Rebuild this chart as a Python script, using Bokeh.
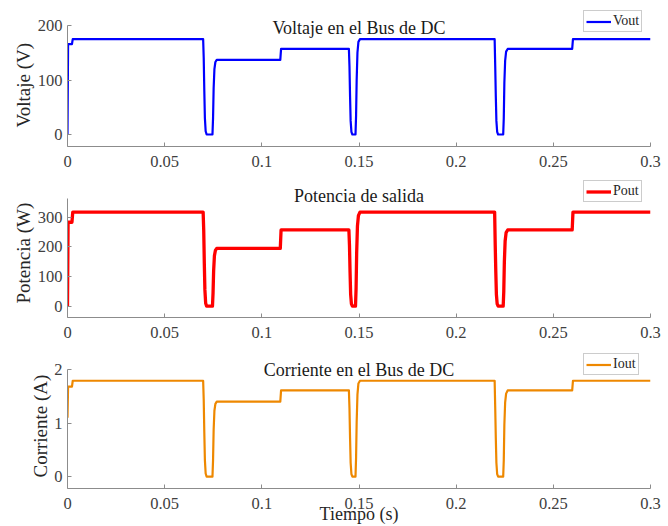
from bokeh.plotting import figure
from bokeh.layouts import column
from bokeh.models import Label, Legend, LegendItem, FixedTicker, Title
from bokeh.embed import file_html
from bokeh.resources import INLINE

# ---- data ----
t = [0, 0.0003, 0.0023, 0.0027,
     0.0698, 0.0701, 0.0704, 0.0707, 0.0711, 0.0716,
     0.0746, 0.0749, 0.0752, 0.0756, 0.0761, 0.0768,
     0.1095, 0.1099,
     0.1448, 0.1451, 0.1454, 0.1457, 0.1461, 0.1466,
     0.1482, 0.1485, 0.1488, 0.1492, 0.1497, 0.1505,
     0.2198, 0.2201, 0.2204, 0.2207, 0.2211, 0.2216,
     0.2242, 0.2245, 0.2248, 0.2252, 0.2257, 0.2265,
     0.2597, 0.2601, 0.3]
vout = [0, 166, 166, 175,
        175, 140, 80, 30, 6, 0,
        0, 30, 85, 120, 133, 137,
        137, 157,
        157, 125, 70, 25, 5, 0,
        0, 35, 100, 150, 170, 175,
        175, 125, 70, 25, 5, 0,
        0, 30, 95, 135, 152, 157,
        157, 175, 175]
pout = [0, 283, 283, 317,
        317, 255, 145, 55, 10, 0,
        0, 45, 120, 170, 188, 195,
        195, 257,
        257, 205, 115, 40, 8, 0,
        0, 60, 180, 270, 305, 317,
        317, 205, 115, 40, 8, 0,
        0, 50, 150, 220, 248, 257,
        257, 317, 317]
iout = [1.1, 1.68, 1.68, 1.79,
        1.79, 1.43, 0.82, 0.31, 0.06, 0,
        0, 0.31, 0.87, 1.23, 1.36, 1.40,
        1.40, 1.61,
        1.61, 1.28, 0.72, 0.26, 0.05, 0,
        0, 0.36, 1.02, 1.53, 1.74, 1.79,
        1.79, 1.28, 0.72, 0.26, 0.05, 0,
        0, 0.31, 0.97, 1.38, 1.55, 1.61,
        1.61, 1.79, 1.79]

x_ticks = [0, 0.05, 0.1, 0.15, 0.2, 0.25, 0.3]
x_tick_labels = ["0", "0.05", "0.1", "0.15", "0.2", "0.25", "0.3"]

titles = ["Voltaje en el Bus de DC", "Potencia de salida", "Corriente en el Bus de DC"]
ylabels = ["Voltaje (V)", "Potencia (W)", "Corriente (A)"]
legend_names = ["Vout", "Pout", "Iout"]
y_ticks = [[0, 100, 200], [0, 100, 200, 300], [0, 1, 2]]
y_axis_bounds = [(-22, 200), (-38, 363), (-0.22, 2.0)]
colors = ["#0000ff", "#ff0000", "#ee8800"]
widths = [2.2, 3.3, 2.2]
series = [vout, pout, iout]

FONT = "Liberation Serif"
AXC = "#8c8c8c"
TXT = "#404040"

# layout: (fig height, frame height, axis-box height, border bottom)
geo = [(172, 141, 121, 26), (172, 140, 119, 27), (182, 139, 119, 38)]
title_base = [119, 122, 119]    # px above frame bottom
legend_bottom = [114, 115, 113]
ylabel_start = [19, 14, 11]     # px above frame bottom where the y label text begins

figs = []
for k in range(3):
    H, fh, ah, bb = geo[k]
    y0, y1 = y_axis_bounds[k]
    ytop = y1 + (fh - ah) * (y1 - y0) / ah
    p = figure(width=668, height=H, x_range=(0, 0.3), y_range=(y0, ytop),
               output_backend="svg", toolbar_location=None,
               min_border_left=67, min_border_right=18,
               min_border_top=H - fh - bb, min_border_bottom=bb)
    p.outline_line_color = None
    p.grid.visible = False
    p.background_fill_color = "white"
    p.border_fill_color = "white"
    r = p.line(t, series[k], color=colors[k], line_width=widths[k], line_join="round")

    for ax in (p.xaxis[0], p.yaxis[0]):
        ax.axis_line_color = AXC
        ax.major_tick_line_color = AXC
        ax.major_tick_in = 4
        ax.major_tick_out = 0
        ax.minor_tick_line_color = None
        ax.major_label_text_font = FONT
        ax.major_label_text_font_size = "16.5px"
        ax.major_label_text_color = TXT
        ax.axis_label_text_font = FONT
        ax.axis_label_text_font_style = "normal"
        ax.axis_label_text_color = "#262626"
        ax.axis_label_text_font_size = "18px"
    p.xaxis[0].ticker = FixedTicker(ticks=x_ticks)
    p.xaxis[0].major_label_overrides = {x_ticks[i]: x_tick_labels[i] for i in range(len(x_ticks))}
    p.xaxis[0].major_label_standoff = 9
    p.yaxis[0].ticker = FixedTicker(ticks=y_ticks[k])
    p.yaxis[0].bounds = (y0, y1)
    p.yaxis[0].major_label_standoff = 5
    # y label placed along the visible axis line (frame is taller than the axis)
    p.add_layout(Title(text=ylabels[k], text_font=FONT, text_font_size="19px",
                       text_font_style="normal", text_color="#262626",
                       align="left", offset=ylabel_start[k], standoff=2), "left")
    if k == 2:
        p.xaxis[0].axis_label = "Tiempo (s)"
        p.xaxis[0].axis_label_standoff = -8

    p.add_layout(Label(x=291.5, y=title_base[k], x_units="screen", y_units="screen",
                       text=titles[k], text_font=FONT, text_font_size="18px",
                       text_color="#1a1a1a", text_align="center", text_baseline="alphabetic"))

    leg = Legend(items=[LegendItem(label=legend_names[k], renderers=[r])],
                 location=(516, legend_bottom[k]),
                 label_text_font=FONT, label_text_font_size="14px",
                 label_text_color="#262626",
                 glyph_width=25, glyph_height=15, label_height=15,
                 label_standoff=2, padding=2, margin=0, spacing=0,
                 border_line_color="#9a9a9a", border_line_width=1,
                 background_fill_color="white", background_fill_alpha=1)
    p.add_layout(leg, "center")
    figs.append(p)

lay = column(*figs, spacing=0)
open("out.html", "w").write(file_html(lay, INLINE))
